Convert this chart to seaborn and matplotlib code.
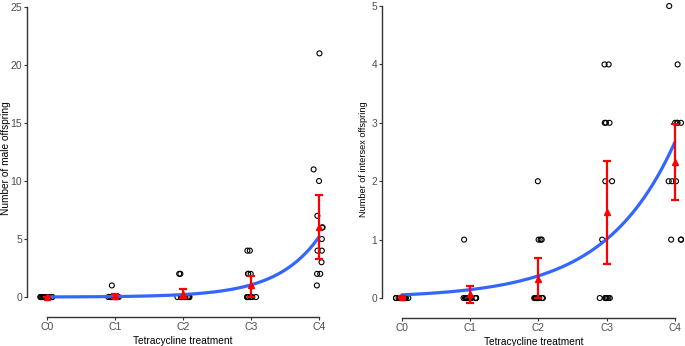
import numpy as np
import pandas as pd
import matplotlib
matplotlib.use("Agg")
import matplotlib.pyplot as plt
import seaborn as sns

sns.set_theme(style="white")
plt.rcParams['font.family'] = ['Liberation Sans', 'DejaVu Sans']

# ---- data ----
treatments = ["C0", "C1", "C2", "C3", "C4"]

male_C0 = [0, 0, 0, 0, 0, 0, 0, 0, 0, 0, 0, 0, 0]
male_C1 = [1, 0, 0, 0, 0, 0, 0, 0, 0, 0, 0, 0, 0]
male_C2 = [2, 2, 0, 0, 0, 0, 0, 0, 0, 0, 0, 0, 0]
male_C3 = [4, 4, 2, 2, 2, 0, 0, 0, 0, 0, 0, 0, 0]
male_C4 = [21, 11, 10, 7, 6, 6, 5, 4, 4, 3, 2, 2, 1]

inter_C0 = [0, 0, 0, 0, 0, 0, 0, 0, 0, 0, 0, 0, 0]
inter_C1 = [1, 0, 0, 0, 0, 0, 0, 0, 0, 0, 0, 0, 0]
inter_C2 = [1, 1, 1, 2, 0, 0, 0, 0, 0, 0, 0, 0, 0, 0, 0]
inter_C3 = [4, 4, 3, 3, 3, 2, 2, 1, 0, 0, 0, 0, 0, 0, 0]
inter_C4 = [5, 4, 3, 3, 3, 3, 2, 2, 2, 1, 1, 1]

# group means and error bar limits (red)
male_mean = [0.02, 0.08, 0.30, 1.05, 6.05]
male_lo = [0.0, -0.07, -0.05, 0.0, 3.3]
male_hi = [0.04, 0.23, 0.66, 1.8, 8.8]

inter_mean = [0.02, 0.07, 0.33, 1.47, 2.33]
inter_lo = [0.0, -0.08, 0.0, 0.58, 1.68]
inter_hi = [0.04, 0.21, 0.68, 2.35, 2.98]

# exponential (log-link) fit coefficients: [intercept, slope]
male_fit = [-4.75, 1.60]
inter_fit = [-2.92, 0.975]

male_ticks = [0, 5, 10, 15, 20, 25]
inter_ticks = [0, 1, 2, 3, 4, 5]


def long_df(groups):
    rows = []
    for t, vals in zip(treatments, groups):
        for v in vals:
            rows.append((t, v))
    return pd.DataFrame(rows, columns=["treatment", "count"])


male_df = long_df([male_C0, male_C1, male_C2, male_C3, male_C4])
inter_df = long_df([inter_C0, inter_C1, inter_C2, inter_C3, inter_C4])

W, H = 685, 346
fig = plt.figure(figsize=(W / 100, H / 100), dpi=100)
ax1 = fig.add_axes([27 / W, (H - 317) / H, 312 / W, 317 / H])
ax2 = fig.add_axes([382 / W, (H - 318) / H, 303 / W, 318 / H])

spine_c = "#333333"
text_c = "#4d4d4d"


def panel(ax, df, mean, lo, hi, fit, ticks, ylim, ylabel, seed,
          tsize, ysize, ylab_x):
    np.random.seed(seed)
    sns.stripplot(data=df, x="treatment", y="count", order=treatments,
                  jitter=0.1, size=3.6, color="black", linewidth=0.8,
                  ax=ax, zorder=2)
    for coll in ax.collections:
        coll.set_facecolor("none")
        coll.set_edgecolor("black")
        coll.set_linewidth(0.8)
    xs = np.linspace(0, 4, 200)
    curve = pd.DataFrame({"x": xs, "y": np.exp(fit[0] + fit[1] * xs)})
    sns.lineplot(data=curve, x="x", y="y", color="#3366FF", linewidth=2.3,
                 ax=ax, zorder=3)
    pos = np.arange(len(treatments))
    m = np.array(mean)
    ax.errorbar(pos, m, yerr=[m - np.array(lo), np.array(hi) - m],
                fmt="none", ecolor="red", elinewidth=1.6, capsize=2.6,
                capthick=1.6, zorder=4)
    ax.plot(pos, m, linestyle="none", marker="^", color="red",
            markersize=5, zorder=5)
    ax.set_xlim(-0.29, 4.29)
    ax.set_ylim(*ylim)
    ax.set_yticks(ticks)
    ax.set_xticks(pos)
    ax.set_xticklabels(treatments)
    for s in ["top", "right"]:
        ax.spines[s].set_visible(False)
    for s in ["left", "bottom"]:
        ax.spines[s].set_color(spine_c)
        ax.spines[s].set_linewidth(1.0)
    ax.spines["left"].set_bounds(ticks[0], ticks[-1])
    ax.spines["bottom"].set_bounds(0, 4)
    ax.tick_params(axis="both", which="both", direction="out", length=2,
                   width=0.8, color=spine_c, labelsize=tsize,
                   labelcolor=text_c, pad=1.5, left=True, bottom=True)
    ax.set_xlabel("Tetracycline treatment", fontsize=7.3, color="black",
                  labelpad=3)
    ax.set_ylabel(ylabel, fontsize=ysize, color="black")
    ax.yaxis.set_label_coords(ylab_x, 0.5)
    ax.yaxis.label.set_verticalalignment("center")
    ax.set_facecolor("white")
    ax.grid(False)


panel(ax1, male_df, male_mean, male_lo, male_hi, male_fit, male_ticks,
      (-1.72, 25.6), "Number of male offspring", 3, 7.6, 7.3, -21 / 312)
panel(ax2, inter_df, inter_mean, inter_lo, inter_hi, inter_fit, inter_ticks,
      (-0.342, 5.103), "Number of intersex offspring", 7, 7.3, 6.6,
      -19 / 303)
ax2.set_xlim(-0.29, 4.15)

fig.savefig("out.png", dpi=100, facecolor="white")
